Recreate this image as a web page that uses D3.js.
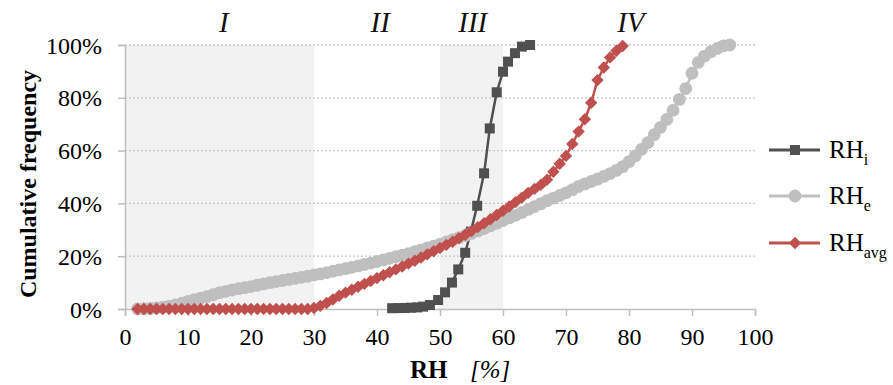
<!DOCTYPE html>
<html><head><meta charset="utf-8">
<script src="https://cdn.jsdelivr.net/npm/d3@7"></script>
<style>
html,body{margin:0;padding:0;background:#fff;}
svg{display:block;font-family:"Liberation Serif","Times New Roman",serif;}
</style></head><body>
<svg id="chart" width="893" height="385"></svg>
<script>
// ---- data ----
const xTicks = [0,10,20,30,40,50,60,70,80,90,100];
const yTicks = [0,0.2,0.4,0.6,0.8,1.0];
const zoneLabels = ["I","II","III","IV"];
const zonePos = [15.7,40.5,55.2,80.3];
const shadedZones = [[0,30],[50,60]];

const rhiX = [42.4,43.4,44.4,45.4,46.4,47.3,48.4,49.7,50.8,51.9,52.9,54.0,54.9,55.9,57.0,57.9,59.0,60.0,60.8,61.9,63.0,64.3];
const rhiY = [0.3,0.35,0.4,0.5,0.6,0.9,1.5,3.4,6.3,10.0,15.0,21.3,29.3,39.1,51.4,68.4,82.1,89.9,93.7,96.9,99.4,100];

const rheX = [2,3,4,5,6,7,8,9,10,11,12,13,14,15,16,17,18,19,20,21,22,23,24,25,26,27,28,29,30,31,32,33,34,35,36,37,38,39,40,41,42,43,44,45,46,47,48,49,50,51,52,53,54,55,56,57,58,59,60,61,62,63,64,65,66,67,68,69,70,71,72,73,74,75,76,77,78,79,80,81,82,83,84,85,86,87,88,89,90,91,92,93,94,95,96];
const rheY = [0,0.1,0.2,0.4,0.7,1.1,1.6,2.2,2.9,3.5,4.1,4.7,5.4,6.2,6.7,7.2,7.7,8.1,8.5,9.0,9.5,10.0,10.4,10.8,11.2,11.6,12.0,12.4,12.9,13.3,13.8,14.3,14.8,15.3,15.8,16.3,16.9,17.4,18.0,18.6,19.2,19.8,20.4,21.0,21.7,22.4,23.1,23.8,24.6,25.4,26.2,27.0,27.8,28.7,29.6,30.5,31.5,32.5,33.5,34.5,35.5,36.6,37.7,38.8,39.9,41.0,42.0,43.0,44.0,45.2,46.4,47.4,48.3,49.2,50.2,51.3,52.5,53.9,55.8,58.0,60.5,63.0,66.0,68.8,71.8,75.3,79.4,83.5,89.3,93.4,95.8,97.5,98.7,99.7,100];

const avgX = [2,3,4,5,6,7,8,9,10,11,12,13,14,15,16,17,18,19,20,21,22,23,24,25,26,27,28,29,30,31,32,33,34,35,36,37,38,39,40,41,42,43,44,45,46,47,48,49,50,51,52,53,54,55,56,57,58,59,60,61,62,63,64,65,66,67,68,69,70,71,72,73,74,75,76,77,78,79];
const avgY = [0,0,0,0,0,0,0,0,0,0,0,0,0,0,0,0,0,0,0,0,0,0,0,0,0,0,0,0,0.4,1.2,2.3,3.6,5.0,6.2,7.3,8.4,9.5,10.6,11.7,12.8,13.9,15.0,16.1,17.2,18.3,19.5,20.7,21.9,23.1,24.3,25.5,26.8,28.1,29.5,31.0,32.5,34.0,35.6,37.2,38.8,40.5,42.2,44.0,45.5,47.0,49.0,52.0,55.0,58.0,62.5,67.2,71.9,78.1,86.7,91.5,95.3,97.8,99.6,100];

const seriesNames = ["RH","RH","RH"];
const seriesSubs = ["i","e","avg"];
const seriesColors = ["#505050","#bfbfbf","#c0504d"];

// ---- layout ----
const svg = d3.select("#chart");
const x = d3.scaleLinear().domain([0,100]).range([125,755]);
const y = d3.scaleLinear().domain([0,1]).range([309,45]);
const serif = "'Liberation Serif','Times New Roman',serif";

// shaded zones
svg.append("g").selectAll("rect").data(shadedZones).join("rect")
  .attr("x", d=>x(d[0])).attr("width", d=>x(d[1])-x(d[0]))
  .attr("y", y(1)).attr("height", y(0)-y(1))
  .attr("fill","#f2f2f2");

// grid
svg.append("g").selectAll("line").data(yTicks.filter(d=>d>0)).join("line")
  .attr("x1", x(0)).attr("x2", x(100))
  .attr("y1", d=>y(d)).attr("y2", d=>y(d))
  .attr("stroke","#c8c8c8").attr("stroke-width",1.3).attr("stroke-dasharray","2,2");

// axes
const axisColor = "#bfbfbf";
const gx = svg.append("g").attr("transform",`translate(0,${y(0)})`)
  .call(d3.axisBottom(x).tickValues(xTicks).tickSize(7).tickPadding(12).tickFormat(d3.format("d")));
const gy = svg.append("g").attr("transform",`translate(${x(0)},0)`)
  .call(d3.axisLeft(y).tickValues(yTicks).tickSize(7).tickPadding(16).tickFormat(d3.format(".0%")));
[gx,gy].forEach(g=>{
  g.attr("font-family", serif);
  g.select(".domain").attr("stroke",axisColor).attr("stroke-width",1.5);
  g.selectAll(".tick line").attr("stroke",axisColor).attr("stroke-width",1.5);
  g.selectAll("text").attr("fill","#000").style("font-size","24px").style("font-family",serif);
});
gx.selectAll("text").attr("dy","0.72em");
gy.selectAll("text").attr("dy","0.34em");

// series
const data = [
  {xs:rhiX, ys:rhiY, shape:"square"},
  {xs:rheX, ys:rheY, shape:"circle"},
  {xs:avgX, ys:avgY, shape:"diamond"}
];
const line = d3.line().x(d=>x(d[0])).y(d=>y(d[1]/100));
function marker(g, shape, color){
  if(shape==="square") return g.append("rect").attr("x",-5).attr("y",-5).attr("width",10).attr("height",10).attr("fill",color);
  if(shape==="circle") return g.append("circle").attr("r",6.4).attr("fill",color);
  return g.append("path").attr("d","M0,-6.2L6.2,0L0,6.2L-6.2,0Z").attr("fill",color);
}
data.forEach((s,i)=>{
  const pts = s.xs.map((v,j)=>[v,s.ys[j]]);
  const g = svg.append("g");
  g.append("path").attr("d",line(pts)).attr("fill","none")
    .attr("stroke",seriesColors[i]).attr("stroke-width",2.5).attr("stroke-linejoin","round");
  pts.forEach(p=>{
    const m = g.append("g").attr("transform",`translate(${x(p[0])},${y(p[1]/100)})`);
    marker(m, s.shape, seriesColors[i]);
  });
});

// zone labels
svg.append("g").selectAll("text").data(zoneLabels).join("text")
  .attr("x",(d,i)=>x(zonePos[i])).attr("y",32)
  .attr("text-anchor","middle").style("font-size","29px").style("font-style","italic")
  .style("font-family",serif).attr("fill","#111").text(d=>d);

// axis titles
const xt = svg.append("text").attr("x",410).attr("y",378).style("font-size","25px").style("font-family",serif);
xt.append("tspan").style("font-weight","bold").text("RH");
xt.append("tspan").attr("x",470).style("font-style","italic").text("[%]");

svg.append("text").attr("transform","translate(36,184) rotate(-90)")
  .attr("text-anchor","middle").style("font-size","24px").style("font-weight","bold")
  .style("font-family",serif).text("Cumulative frequency");

// legend
const legY = [150,196,243];
const shapes = ["square","circle","diamond"];
seriesNames.forEach((n,i)=>{
  const g = svg.append("g").attr("transform",`translate(0,${legY[i]})`);
  g.append("line").attr("x1",769).attr("x2",820).attr("y1",0).attr("y2",0)
    .attr("stroke",seriesColors[i]).attr("stroke-width",3);
  const m = g.append("g").attr("transform","translate(795,0)");
  marker(m, shapes[i], seriesColors[i]);
  const t = g.append("text").attr("x",829).attr("y",8).style("font-size","25px")
    .style("font-family",serif).attr("fill","#000");
  t.append("tspan").text(n);
  t.append("tspan").attr("dy",7).style("font-size","16px").text(seriesSubs[i]);
});
</script>
</body></html>
